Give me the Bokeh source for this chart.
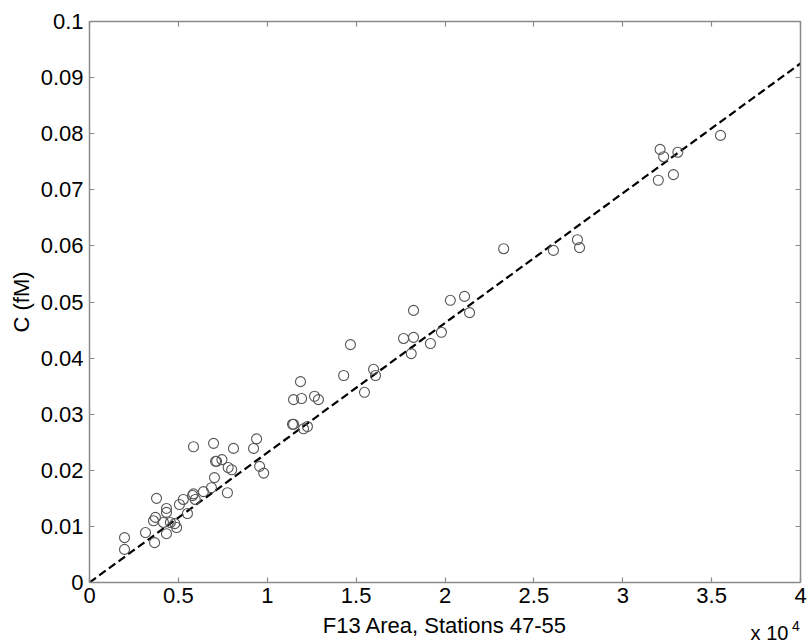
from bokeh.plotting import figure
from bokeh.layouts import column
from bokeh.models import Range1d, LinearAxis, FixedTicker
from bokeh.core.properties import value
from bokeh.embed import file_html
from bokeh.resources import INLINE

# F13 area (raw counts) and measured concentration C (fM), stations 47-55
area = [
    1970, 1970, 3150, 3660, 3600, 3710, 3770, 4160, 4330, 4330, 4330, 4550,
    4900, 4800, 5060, 5280, 5510, 5800, 5950, 5850, 5850, 6410, 6860, 7030,
    7760, 7150, 7450, 7800, 8000, 9400, 9570, 9800, 9230, 8100, 6980, 7090,
    11480, 11870, 11930, 12660, 12880, 11420, 12040, 12260, 11480, 14300, 14680,
    15980, 16090, 15470, 17670, 18230, 18100, 19180, 19800, 18230, 20300, 21100,
    21380, 23300, 26100, 27450, 27570, 32100, 32300, 33100, 32000, 32850, 35500,
]
conc = [
    0.0080, 0.0059, 0.0089, 0.0071, 0.0110, 0.0116, 0.0150, 0.0107, 0.0125,
    0.0132, 0.0087, 0.0107, 0.0098, 0.0105, 0.0139, 0.0148, 0.0123, 0.0155,
    0.0148, 0.0158, 0.0242, 0.0162, 0.0169, 0.0187, 0.0160, 0.0216, 0.0219,
    0.0205, 0.0201, 0.0256, 0.0207, 0.0195, 0.0239, 0.0239, 0.0248, 0.0216,
    0.0326, 0.0358, 0.0328, 0.0332, 0.0326, 0.0282, 0.0274, 0.0278, 0.0282,
    0.0369, 0.0424, 0.0380, 0.0369, 0.0339, 0.0435, 0.0437, 0.0408, 0.0426,
    0.0446, 0.0485, 0.0503, 0.0510, 0.0481, 0.0595, 0.0592, 0.0611, 0.0597,
    0.0772, 0.0759, 0.0767, 0.0717, 0.0727, 0.0797,
]

# least-squares fit through the origin
fit_x = [0, 40000]
fit_slope = 2.313e-6
fit_y = [fit_slope * v for v in fit_x]

x_ticks = [0, 5000, 10000, 15000, 20000, 25000, 30000, 35000, 40000]
x_tick_labels = ["0", "0.5", "1", "1.5", "2", "2.5", "3", "3.5", "4"]
y_ticks = [0, 0.01, 0.02, 0.03, 0.04, 0.05, 0.06, 0.07, 0.08, 0.09, 0.1]
y_tick_labels = ["0", "0.01", "0.02", "0.03", "0.04", "0.05", "0.06",
                 "0.07", "0.08", "0.09", "0.1"]
x_title = "F13 Area, Stations 47-55"
y_title = "C (fM)"
x_scale_note = "x 10"
x_scale_power = "4"

FONT = "Liberation Sans"
AXIS_GREY = "#8a8a8a"

x_range = Range1d(0, 40000)

p = figure(
    width=808, height=612,
    frame_width=711, frame_height=561,
    x_range=x_range, y_range=Range1d(0, 0.1),
    output_backend="svg", toolbar_location=None,
    min_border_left=89, min_border_right=8, min_border_top=21, min_border_bottom=30,
)
p.outline_line_color = None
p.xgrid.visible = False
p.ygrid.visible = False
p.background_fill_color = "white"
p.border_fill_color = "white"


def style_axis(ax, ticks, overrides, show_labels):
    ax.ticker = FixedTicker(ticks=ticks)
    ax.major_label_overrides = dict(zip(ticks, overrides))
    ax.axis_line_color = AXIS_GREY
    ax.axis_line_width = 1.5
    ax.major_tick_line_color = AXIS_GREY
    ax.major_tick_line_width = 1.2
    ax.major_tick_in = 5
    ax.major_tick_out = 0
    ax.minor_tick_line_color = None
    ax.major_label_text_font = FONT
    ax.major_label_text_color = "black"
    ax.major_label_text_font_size = "22px" if show_labels else "0px"
    ax.major_label_standoff = 6
    ax.axis_label_text_font = FONT
    ax.axis_label_text_font_style = "normal"
    ax.axis_label_text_color = "black"
    ax.axis_label_text_font_size = "22px"


style_axis(p.xaxis[0], x_ticks, x_tick_labels, True)
style_axis(p.yaxis[0], y_ticks, y_tick_labels, True)
p.xaxis[0].major_label_standoff = 5
p.yaxis[0].axis_label = y_title
p.yaxis[0].axis_label_standoff = 4

top_axis = LinearAxis()
style_axis(top_axis, x_ticks, [""] * len(x_ticks), False)
p.add_layout(top_axis, "above")
right_axis = LinearAxis()
style_axis(right_axis, y_ticks, [""] * len(y_ticks), False)
p.add_layout(right_axis, "right")

p.line(fit_x, fit_y, line_color="black", line_width=2.2, line_dash="8 4")
p.scatter(area, conc, marker="circle", size=10, fill_color=None,
          line_color="#555555", line_width=1.1)

# strip under the plot: x-axis title and the x10^4 multiplier, sharing the x range
strip = figure(
    width=808, height=32,
    frame_width=711, frame_height=32,
    x_range=x_range, y_range=Range1d(0, 32),
    output_backend="svg", toolbar_location=None,
    min_border_left=89, min_border_right=8, min_border_top=0, min_border_bottom=0,
)
strip.axis.visible = False
strip.grid.visible = False
strip.outline_line_color = None
strip.border_fill_color = "white"

strip.text(x=[20000], y=[19], text=[x_title], text_align="center",
           text_baseline="middle", text_font=value(FONT),
           text_font_size="22px", text_color="black")
strip.text(x=[39320], y=[12], text=[x_scale_note], text_align="right",
           text_baseline="middle", text_font=value(FONT),
           text_font_size="20px", text_color="black")
strip.text(x=[39520], y=[19], text=[x_scale_power], text_align="left",
           text_baseline="middle", text_font=value(FONT),
           text_font_size="14px", text_color="black")

layout = column(p, strip, spacing=0)
open("out.html", "w").write(file_html(layout, INLINE))
